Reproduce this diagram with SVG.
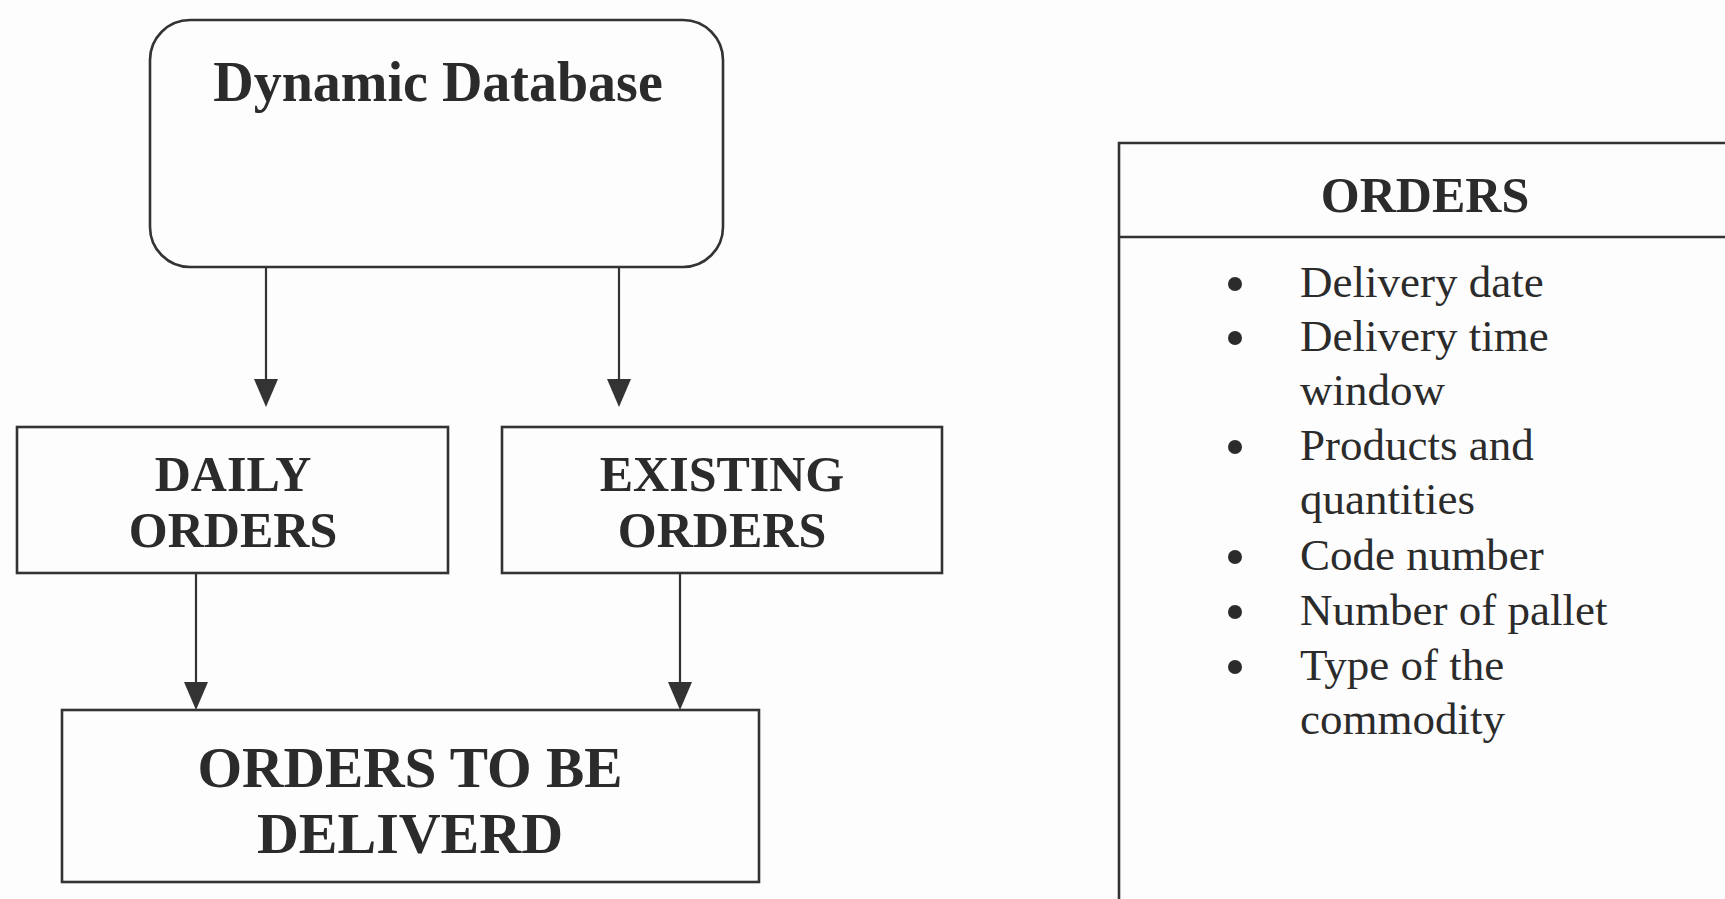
<svg xmlns="http://www.w3.org/2000/svg" width="1725" height="899" viewBox="0 0 1725 899">
<style>
.box{fill:none;stroke:#333;stroke-width:2.6}
.conn{stroke:#333;stroke-width:2.2;fill:none}
.hd{font-family:"Liberation Serif","Times New Roman",serif;font-weight:bold;fill:#2b2b2b;text-anchor:middle}
.it{font-family:"Liberation Serif","Times New Roman",serif;fill:#2b2b2b;font-size:45px}
.dot{fill:#2b2b2b}
</style>
<rect width="1725" height="899" fill="#fdfdfd"/>
<g id="connectors">
<line class="conn" x1="266" y1="267" x2="266" y2="381"/>
<path d="M254,379 L278,379 L266,407 z" fill="#333"/>
<line class="conn" x1="619" y1="267" x2="619" y2="381"/>
<path d="M607,379 L631,379 L619,407 z" fill="#333"/>
<line class="conn" x1="196" y1="573" x2="196" y2="684"/>
<path d="M184,682 L208,682 L196,710 z" fill="#333"/>
<line class="conn" x1="680" y1="573" x2="680" y2="684"/>
<path d="M668,682 L692,682 L680,710 z" fill="#333"/>
</g>
<g id="dynamic-database">
<rect class="box" x="150" y="20" width="573" height="247" rx="40" ry="40"/>
<text class="hd" x="438" y="101" font-size="56">Dynamic Database</text>
</g>
<g id="daily-orders">
<rect class="box" x="17" y="427" width="431" height="146"/>
<text class="hd" x="233" y="491" font-size="50">DAILY</text>
<text class="hd" x="233" y="547" font-size="50">ORDERS</text>
</g>
<g id="existing-orders">
<rect class="box" x="502" y="427" width="440" height="146"/>
<text class="hd" x="722" y="491" font-size="50">EXISTING</text>
<text class="hd" x="722" y="547" font-size="50">ORDERS</text>
</g>
<g id="orders-to-be-delivered">
<rect class="box" x="62" y="710" width="697" height="172"/>
<text class="hd" x="410" y="787" font-size="58" textLength="425" lengthAdjust="spacingAndGlyphs">ORDERS TO BE</text>
<text class="hd" x="410" y="853" font-size="58">DELIVERD</text>
</g>
<g id="orders">
<path class="box" d="M1727,143 L1119,143 L1119,901"/>
<line class="box" x1="1119" y1="237" x2="1727" y2="237"/>
<text class="hd" x="1425" y="212" font-size="50">ORDERS</text>
<circle class="dot" cx="1235" cy="284" r="7"/>
<text class="it" x="1300" y="297">Delivery date</text>
<circle class="dot" cx="1235" cy="338" r="7"/>
<text class="it" x="1300" y="351">Delivery time</text>
<text class="it" x="1300" y="405">window</text>
<circle class="dot" cx="1235" cy="447" r="7"/>
<text class="it" x="1300" y="460">Products and</text>
<text class="it" x="1300" y="514">quantities</text>
<circle class="dot" cx="1235" cy="557" r="7"/>
<text class="it" x="1300" y="570">Code number</text>
<circle class="dot" cx="1235" cy="612" r="7"/>
<text class="it" x="1300" y="625">Number of pallet</text>
<circle class="dot" cx="1235" cy="667" r="7"/>
<text class="it" x="1300" y="680">Type of the</text>
<text class="it" x="1300" y="734">commodity</text>
</g>
</svg>
